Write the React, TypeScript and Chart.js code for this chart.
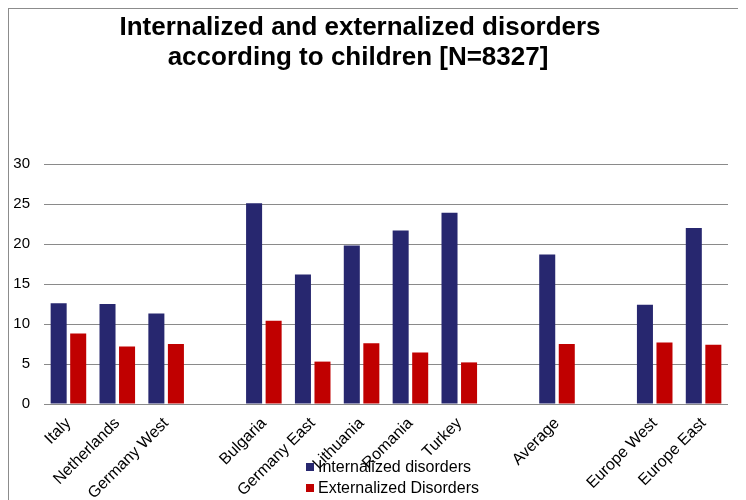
import React, { useEffect, useRef } from "react";
import { Chart, registerables } from "chart.js";

Chart.register(...registerables);

const categories = [
  "Italy", "Netherlands", "Germany West", "",
  "Bulgaria", "Germany East", "Lithuania", "Romania", "Turkey", "",
  "Average", "",
  "Europe West", "Europe East",
];
const internalized = [12.6, 12.5, 11.3, null, 25.1, 16.2, 19.8, 21.7, 23.9, null, 18.7, null, 12.4, 22.0];
const externalized = [8.8, 7.2, 7.5, null, 10.4, 5.3, 7.6, 6.45, 5.2, null, 7.5, null, 7.7, 7.4];
const seriesNames = ["Internalized disorders", "Externalized Disorders"];
const seriesColors = ["#27276F", "#C00000"];
const titleLines = ["Internalized and externalized disorders", "according to children [N=8327]"];
const yTicks = [0, 5, 10, 15, 20, 25, 30];

const FONT = "'Liberation Sans', Arial, sans-serif";

const titlePlugin = {
  id: "customTitle",
  afterDraw(chart: any) {
    const ctx = chart.ctx;
    ctx.save();
    ctx.fillStyle = "#000";
    ctx.font = `bold 26px ${FONT}`;
    ctx.textAlign = "center";
    ctx.textBaseline = "alphabetic";
    ctx.fillText(titleLines[0], 351, 26);
    ctx.fillText(titleLines[1], 349, 56);
    ctx.restore();
  },
};

const legendPlugin = {
  id: "customLegend",
  afterDraw(chart: any) {
    const ctx = chart.ctx;
    ctx.save();
    ctx.font = `16px ${FONT}`;
    ctx.textBaseline = "middle";
    ctx.textAlign = "left";
    chart.data.datasets.forEach((ds: any, i: number) => {
      const y = 458 + i * 21;
      ctx.fillStyle = ds.backgroundColor;
      ctx.fillRect(297, y - 4, 8, 8);
      ctx.fillStyle = "#000";
      ctx.fillText(ds.label, 309, y + 1);
    });
    ctx.restore();
  },
};

export default function App() {
  const ref = useRef<HTMLCanvasElement | null>(null);
  useEffect(() => {
    if (!ref.current) return;
    const chart = new Chart(ref.current, {
      type: "bar",
      data: {
        labels: categories,
        datasets: [
          { label: seriesNames[0], data: internalized as any, backgroundColor: seriesColors[0], categoryPercentage: 0.8, barPercentage: 0.82 },
          { label: seriesNames[1], data: externalized as any, backgroundColor: seriesColors[1], categoryPercentage: 0.8, barPercentage: 0.82 },
        ],
      },
      options: {
        responsive: false,
        animation: false,
        layout: { padding: { top: 155, right: 18, left: 4, bottom: 0 } },
        plugins: {
          legend: { display: false },
          title: { display: false },
          tooltip: { enabled: false },
        },
        scales: {
          x: {
            grid: { display: false },
            border: { display: false },
            afterFit: (s: any) => {
              s.paddingLeft = 0;
              s.paddingRight = 0;
              s.height = 96;
            },
            ticks: {
              autoSkip: false,
              maxRotation: 45,
              minRotation: 45,
              color: "#000",
              font: { family: FONT, size: 16 },
              padding: 2,
            },
          },
          y: {
            min: 0,
            max: 30,
            afterBuildTicks: (axis: any) => {
              axis.ticks = yTicks.map((v) => ({ value: v }));
            },
            afterFit: (s: any) => {
              s.width = 31;
            },
            grid: { color: "#8a8a8a", lineWidth: 1, drawTicks: false },
            border: { display: false },
            ticks: {
              color: "#000",
              font: { family: FONT, size: 15 },
              padding: 14,
            },
          },
        },
      },
      plugins: [titlePlugin, legendPlugin],
    });
    return () => chart.destroy();
  }, []);

  return (
    <div
      style={{
        width: 738,
        height: 492,
        borderTop: "1px solid #8c8c8c",
        borderLeft: "1px solid #8c8c8c",
        boxSizing: "border-box",
        overflow: "hidden",
      }}
    >
      <canvas ref={ref} width={737} height={491} style={{ display: "block" }} />
    </div>
  );
}
